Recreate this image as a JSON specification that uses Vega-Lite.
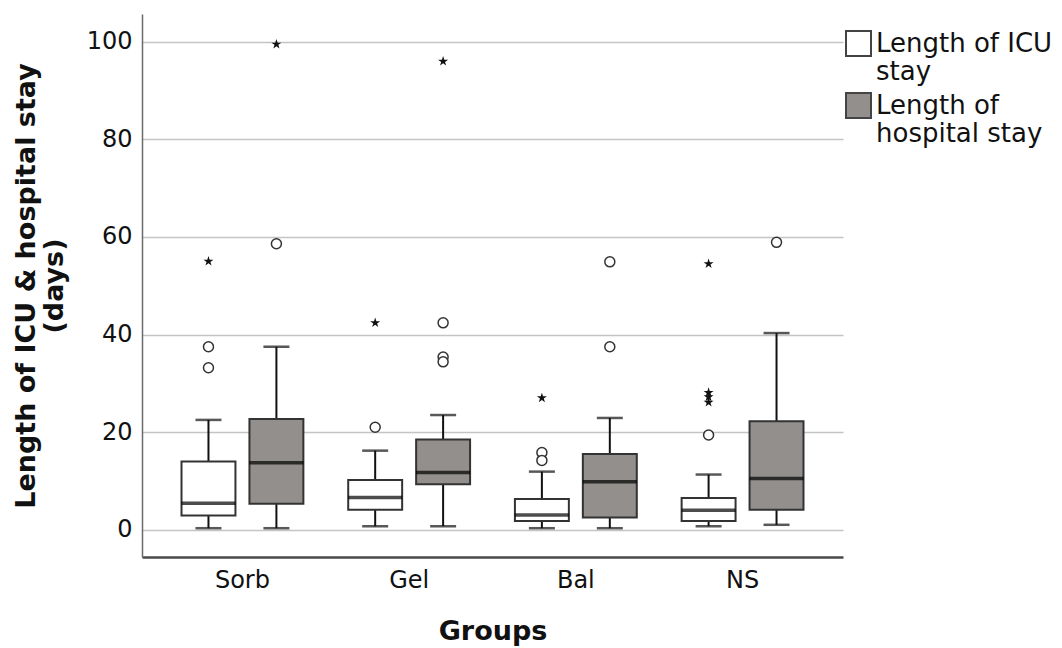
{
  "$schema": "https://vega.github.io/schema/vega-lite/v6.json",
  "width": 701,
  "height": 543,
  "autosize": {"type": "none"},
  "padding": {"left": 142, "top": 14, "right": 219, "bottom": 91},
  "config": {
    "view": {"stroke": null},
    "font": "DejaVu Sans",
    "axis": {"labelColor": "#111111", "titleColor": "#111111"}
  },
  "datasets": {
    "boxes": [
      {"group": "Sorb", "series": "Length of ICU stay", "lo": 0.3, "q1": 2.9, "med": 5.4, "q3": 14.0, "hi": 22.5},
      {"group": "Sorb", "series": "Length of hospital stay", "lo": 0.3, "q1": 5.3, "med": 13.7, "q3": 22.7, "hi": 37.5},
      {"group": "Gel", "series": "Length of ICU stay", "lo": 0.7, "q1": 4.1, "med": 6.6, "q3": 10.2, "hi": 16.2},
      {"group": "Gel", "series": "Length of hospital stay", "lo": 0.7, "q1": 9.3, "med": 11.7, "q3": 18.5, "hi": 23.5},
      {"group": "Bal", "series": "Length of ICU stay", "lo": 0.3, "q1": 1.8, "med": 3.0, "q3": 6.3, "hi": 11.9},
      {"group": "Bal", "series": "Length of hospital stay", "lo": 0.3, "q1": 2.5, "med": 9.8, "q3": 15.5, "hi": 22.9},
      {"group": "NS", "series": "Length of ICU stay", "lo": 0.7, "q1": 1.8, "med": 4.0, "q3": 6.5, "hi": 11.3},
      {"group": "NS", "series": "Length of hospital stay", "lo": 1.0, "q1": 4.1, "med": 10.5, "q3": 22.2, "hi": 40.3}
    ],
    "points": [
      {"group": "Sorb", "series": "Length of ICU stay", "value": 37.5, "kind": "outlier"},
      {"group": "Sorb", "series": "Length of ICU stay", "value": 33.2, "kind": "outlier"},
      {"group": "Sorb", "series": "Length of ICU stay", "value": 55.0, "kind": "extreme"},
      {"group": "Sorb", "series": "Length of hospital stay", "value": 58.6, "kind": "outlier"},
      {"group": "Sorb", "series": "Length of hospital stay", "value": 99.5, "kind": "extreme"},
      {"group": "Gel", "series": "Length of ICU stay", "value": 21.0, "kind": "outlier"},
      {"group": "Gel", "series": "Length of ICU stay", "value": 42.4, "kind": "extreme"},
      {"group": "Gel", "series": "Length of hospital stay", "value": 42.4, "kind": "outlier"},
      {"group": "Gel", "series": "Length of hospital stay", "value": 35.4, "kind": "outlier"},
      {"group": "Gel", "series": "Length of hospital stay", "value": 34.4, "kind": "outlier"},
      {"group": "Gel", "series": "Length of hospital stay", "value": 96.0, "kind": "extreme"},
      {"group": "Bal", "series": "Length of ICU stay", "value": 15.8, "kind": "outlier"},
      {"group": "Bal", "series": "Length of ICU stay", "value": 14.2, "kind": "outlier"},
      {"group": "Bal", "series": "Length of ICU stay", "value": 27.0, "kind": "extreme"},
      {"group": "Bal", "series": "Length of hospital stay", "value": 54.9, "kind": "outlier"},
      {"group": "Bal", "series": "Length of hospital stay", "value": 37.5, "kind": "outlier"},
      {"group": "NS", "series": "Length of ICU stay", "value": 19.4, "kind": "outlier"},
      {"group": "NS", "series": "Length of ICU stay", "value": 28.1, "kind": "extreme"},
      {"group": "NS", "series": "Length of ICU stay", "value": 27.2, "kind": "extreme"},
      {"group": "NS", "series": "Length of ICU stay", "value": 26.1, "kind": "extreme"},
      {"group": "NS", "series": "Length of ICU stay", "value": 54.5, "kind": "extreme"},
      {"group": "NS", "series": "Length of hospital stay", "value": 58.9, "kind": "outlier"}
    ]
  },
  "encoding": {
    "x": {
      "field": "group",
      "type": "nominal",
      "sort": ["Sorb", "Gel", "Bal", "NS"],
      "scale": {"paddingOuter": 0.1025, "paddingInner": 0},
      "axis": {
        "title": "Groups",
        "labelAngle": 0,
        "labelFontSize": 24,
        "labelPadding": 11,
        "ticks": false,
        "domainColor": "#4a4a4a",
        "domainWidth": 2.5,
        "titleFontSize": 27,
        "titleFontWeight": "bold",
        "titlePadding": 26
      }
    },
    "xOffset": {
      "field": "series",
      "type": "nominal",
      "sort": ["Length of ICU stay", "Length of hospital stay"],
      "scale": {"paddingInner": 0.206, "paddingOuter": 0.33}
    }
  },
  "layer": [
    {
      "data": {"name": "boxes"},
      "mark": {"type": "rule", "color": "#111111", "strokeWidth": 2},
      "encoding": {
        "y": {
          "field": "lo",
          "type": "quantitative",
          "scale": {"domain": [-5.6, 105.7], "nice": false, "zero": false},
          "axis": {
            "values": [0, 20, 40, 60, 80, 100],
            "title": ["Length of ICU & hospital stay", "(days)"],
            "titleFontSize": 27,
            "titleFontWeight": "bold",
            "titleLineHeight": 28,
            "titlePadding": 18,
            "labelFontSize": 24,
            "labelPadding": 10,
            "ticks": false,
            "grid": true,
            "gridColor": "#c4c4c4",
            "gridWidth": 1.5,
            "domainColor": "#6a6a6a",
            "domainWidth": 1.5
          }
        },
        "y2": {"field": "hi"}
      }
    },
    {
      "data": {"name": "boxes"},
      "mark": {"type": "bar", "stroke": "#333333", "strokeWidth": 2},
      "encoding": {
        "y": {"field": "q1", "type": "quantitative"},
        "y2": {"field": "q3"},
        "fill": {
          "field": "series",
          "type": "nominal",
          "scale": {
            "domain": ["Length of ICU stay", "Length of hospital stay"],
            "range": ["#ffffff", "#928f8d"]
          },
          "legend": {
            "title": null,
            "orient": "none",
            "legendX": 703,
            "legendY": 16,
            "symbolType": "square",
            "symbolSize": 625,
            "symbolStrokeColor": "#444444",
            "symbolStrokeWidth": 2,
            "labelFontSize": 26,
            "labelColor": "#111111",
            "labelOffset": 4,
            "labelLimit": 0,
            "rowPadding": 4,
            "labelExpr": "datum.label == 'Length of ICU stay' ? ['Length of ICU', 'stay'] : ['Length of', 'hospital stay']"
          }
        }
      }
    },
    {
      "data": {"name": "boxes"},
      "mark": {"type": "tick", "color": "#000000", "size": 54, "thickness": 3.5},
      "encoding": {"y": {"field": "med", "type": "quantitative"}}
    },
    {
      "data": {"name": "boxes"},
      "mark": {"type": "tick", "color": "#111111", "size": 26, "thickness": 2.5},
      "encoding": {"y": {"field": "lo", "type": "quantitative"}}
    },
    {
      "data": {"name": "boxes"},
      "mark": {"type": "tick", "color": "#111111", "size": 26, "thickness": 2.5},
      "encoding": {"y": {"field": "hi", "type": "quantitative"}}
    },
    {
      "data": {"name": "points"},
      "transform": [{"filter": "datum.kind == 'outlier'"}],
      "mark": {"type": "point", "shape": "circle", "filled": false, "size": 100, "stroke": "#333333", "strokeWidth": 1.5, "fill": "#ffffff", "opacity": 1},
      "encoding": {"y": {"field": "value", "type": "quantitative"}}
    },
    {
      "data": {"name": "points"},
      "transform": [{"filter": "datum.kind == 'extreme'"}],
      "mark": {
        "type": "point",
        "shape": "M0,-1L0.224,-0.309L0.951,-0.309L0.363,0.118L0.588,0.809L0,0.382L-0.588,0.809L-0.363,0.118L-0.951,-0.309L-0.224,-0.309Z",
        "filled": true,
        "size": 110,
        "color": "#111111",
        "opacity": 1
      },
      "encoding": {"y": {"field": "value", "type": "quantitative"}}
    }
  ]
}
